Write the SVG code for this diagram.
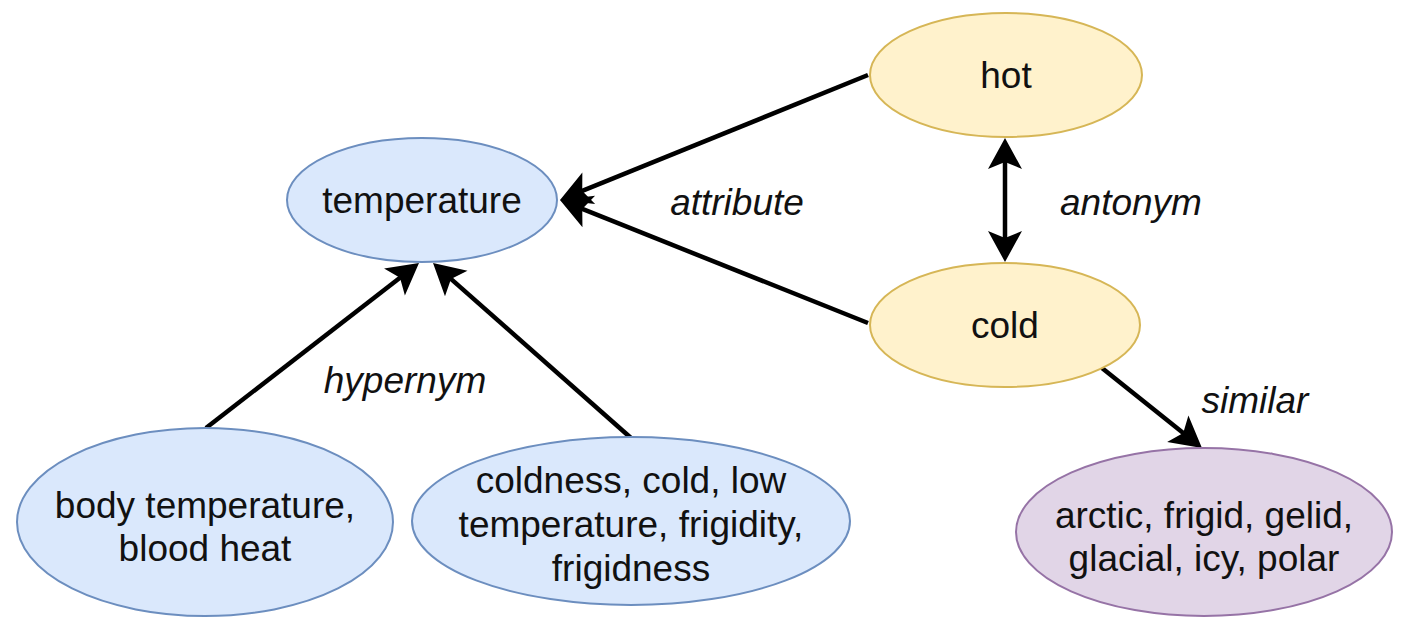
<svg xmlns="http://www.w3.org/2000/svg" width="1414" height="630" viewBox="0 0 1414 630">
<style>
.blue{fill:#dae8fc;stroke:#6c8ebf;stroke-width:2}
.yellow{fill:#fff2cc;stroke:#d6b656;stroke-width:2}
.purple{fill:#e1d5e7;stroke:#9673a6;stroke-width:2}
text{font-family:"Liberation Sans",Arial,Helvetica,sans-serif;font-size:37px;fill:#111;text-anchor:middle}
.lbl{font-style:italic}
.edge{stroke:#000;stroke-width:4.5;fill:none}
</style>
<defs>
<marker id="arr" markerUnits="userSpaceOnUse" viewBox="-10 -19 34 38" refX="0" refY="0" markerWidth="34" markerHeight="38" orient="auto-start-reverse">
<path d="M22,0 L-9,-17 L-2,0 L-9,17 Z" fill="#000"/>
</marker>
</defs>
<rect width="1414" height="630" fill="#fff"/>
<g id="connectors">
<line class="edge" x1="868" y1="75" x2="580.4" y2="191.7" marker-end="url(#arr)"/>
<line class="edge" x1="868" y1="323" x2="580.4" y2="208.2" marker-end="url(#arr)"/>
<line class="edge" x1="1005" y1="160" x2="1005" y2="240" marker-start="url(#arr)" marker-end="url(#arr)"/>
<line class="edge" x1="206" y1="428" x2="401.6" y2="276.5" marker-end="url(#arr)"/>
<line class="edge" x1="631" y1="438" x2="449.5" y2="277.6" marker-end="url(#arr)"/>
<line class="edge" x1="1102" y1="368" x2="1184.8" y2="434.3" marker-end="url(#arr)"/>
<text class="lbl" x="737" y="215">attribute</text>
<text class="lbl" x="1131" y="215">antonym</text>
<text class="lbl" x="405" y="393">hypernym</text>
<text class="lbl" x="1255" y="413">similar</text>
</g>
<g id="node-hot">
<ellipse class="yellow" cx="1006" cy="75" rx="136" ry="62"/>
<text x="1006" y="88">hot</text>
</g>
<g id="node-cold">
<ellipse class="yellow" cx="1005" cy="325" rx="135" ry="62"/>
<text x="1005" y="338">cold</text>
</g>
<g id="node-temperature">
<ellipse class="blue" cx="422" cy="200" rx="135" ry="62"/>
<text x="422" y="213">temperature</text>
</g>
<g id="node-body">
<ellipse class="blue" cx="205" cy="522" rx="188" ry="94"/>
<text x="205" y="518">body temperature,</text>
<text x="205" y="561">blood heat</text>
</g>
<g id="node-coldness">
<ellipse class="blue" cx="631" cy="521" rx="219" ry="84"/>
<text x="631" y="493">coldness, cold, low</text>
<text x="631" y="537">temperature, frigidity,</text>
<text x="631" y="581">frigidness</text>
</g>
<g id="node-arctic">
<ellipse class="purple" cx="1204" cy="532" rx="188" ry="84"/>
<text x="1204" y="528">arctic, frigid, gelid,</text>
<text x="1204" y="571">glacial, icy, polar</text>
</g>
</svg>
